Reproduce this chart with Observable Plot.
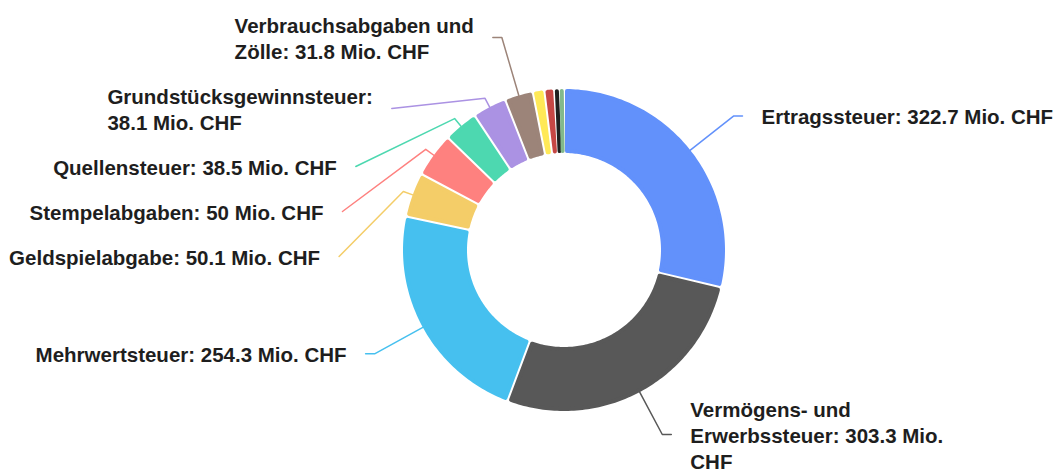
<!DOCTYPE html>
<html>
<head>
<meta charset="utf-8">
<script src="https://cdn.jsdelivr.net/npm/d3@7"></script>
<script src="https://cdn.jsdelivr.net/npm/@observablehq/plot@0.6"></script>
<style>
  html, body { margin: 0; padding: 0; background: #fff; }
  #chart svg { display: block; }
</style>
</head>
<body>
<div id="chart"></div>
<script>
// ---- Data (Mio. CHF), clockwise from 12 o'clock ----
const categories = [
  "Ertragssteuer",
  "Vermögens- und Erwerbssteuer",
  "Mehrwertsteuer",
  "Geldspielabgabe",
  "Stempelabgaben",
  "Quellensteuer",
  "Grundstücksgewinnsteuer",
  "Verbrauchsabgaben und Zölle",
  "Sonstige 1",
  "Sonstige 2",
  "Sonstige 3",
  "Sonstige 4"
];
const values = [322.7, 303.3, 254.3, 50.1, 50, 38.5, 38.1, 31.8, 13, 11, 6, 5];
const labelTexts = [
  "Ertragssteuer: 322.7 Mio. CHF",
  "Vermögens- und\nErwerbssteuer: 303.3 Mio.\nCHF",
  "Mehrwertsteuer: 254.3 Mio. CHF",
  "Geldspielabgabe: 50.1 Mio. CHF",
  "Stempelabgaben: 50 Mio. CHF",
  "Quellensteuer: 38.5 Mio. CHF",
  "Grundstücksgewinnsteuer:\n38.1 Mio. CHF",
  "Verbrauchsabgaben und\nZölle: 31.8 Mio. CHF",
  null, null, null, null
];
const colors = [
  "#6291fb", "#585858", "#46c0ef", "#f4cd68", "#fe817f", "#4dd8b0",
  "#ab92e3", "#9c8479", "#ffe957", "#c64745", "#202020", "#82b98c"
];

// ---- Layout ----
const W = 1059, H = 474;
const CX = 563.5, CY = 249.5, RO = 161, RI = 97;
const GAP = 1, ROUND = 2;           // white gap half-width, corner rounding
const L1 = 55, L2 = 9, TEXT_GAP = 19;
const FONT_SIZE = 20.5, LINE_H = 26, LABEL_SPACING = 19, EDGE = 11;
const FONT_FAMILY = "'Liberation Sans', Arial, Helvetica, sans-serif";

const data = categories.map((name, i) => ({name, value: values[i], label: labelTexts[i]}));
const arcs = d3.pie().sort(null).value(d => d.value).startAngle(0).endAngle(2 * Math.PI)(data);

const pt = (r, a) => [CX + r * Math.sin(a), CY - r * Math.cos(a)];

// slice polygons
const slicePts = [];
arcs.forEach(a => {
  const ro = RO - ROUND, ri = RI + ROUND, inset = GAP + ROUND;
  const seg = r => {
    let s = a.startAngle + inset / r, e = a.endAngle - inset / r;
    if (s > e) { const m = (a.startAngle + a.endAngle) / 2; s = e = m; }
    return [s, e];
  };
  const [os, oe] = seg(ro), [is, ie] = seg(ri);
  const n = Math.max(2, Math.ceil((oe - os) / (Math.PI / 180)) + 1);
  for (let i = 0; i < n; i++) {
    const [x, y] = pt(ro, os + (oe - os) * i / (n - 1));
    slicePts.push({name: a.data.name, x, y});
  }
  for (let i = 0; i < n; i++) {
    const [x, y] = pt(ri, ie - (ie - is) * i / (n - 1));
    slicePts.push({name: a.data.name, x, y});
  }
});

// label layout
const ctx = document.createElement("canvas").getContext("2d");
ctx.font = `bold ${FONT_SIZE}px ${FONT_FAMILY}`;
const labelled = arcs.filter(a => a.data.label).map(a => {
  const mid = (a.startAngle + a.endAngle) / 2;
  const nx = Math.sin(mid), ny = -Math.cos(mid);
  const lines = a.data.label.split("\n");
  const y0 = CY + (RO + L1) * ny;
  return {
    name: a.data.name, text: a.data.label, mid, nx, ny,
    right: nx > 0,
    h: lines.length * LINE_H,
    w: Math.max(...lines.map(l => ctx.measureText(l).width)),
    y0, y: y0
  };
});
for (const side of [true, false]) {
  const items = labelled.filter(d => d.right === side).sort((a, b) => a.y - b.y);
  // push down to avoid overlaps, collecting contiguous clusters
  const clusters = [];
  let prevBottom = -Infinity;
  for (const d of items) {
    if (d.y - d.h / 2 < prevBottom + LABEL_SPACING) {
      d.y = prevBottom + LABEL_SPACING + d.h / 2;
      clusters[clusters.length - 1].push(d);
    } else {
      clusters.push([d]);
    }
    prevBottom = d.y + d.h / 2;
  }
  // spread the top cluster back up (bounded by the top edge)
  const top = clusters[0];
  const meanShift = d3.mean(top, d => d.y - d.y0);
  const room = top[0].y - top[0].h / 2 - EDGE;
  const up = Math.max(0, Math.min(meanShift, room));
  top.forEach(d => d.y -= up);
  // keep within the bottom edge
  const last = items[items.length - 1];
  const over = last.y + last.h / 2 - (H - 1);
  if (over > 0) last.y -= over;

  const rA = RO + L1;
  for (const d of items) {
    const dir = d.right ? 1 : -1;
    const p0 = pt(RO, d.mid);
    const t = (d.y - CY) / d.ny;
    let p1, p2;
    if (t > RO + 20 && t < RO + 90) {
      p1 = [CX + t * d.nx, d.y];
      p2 = [p1[0] + dir * L2, d.y];
    } else {
      p1 = pt(RO + 10, d.mid);
      const dy = Math.min(Math.abs(d.y - CY), rA);
      const dx = Math.sqrt(rA * rA - dy * dy);
      p2 = [CX + dir * (dx + L2), d.y];
    }
    d.line = [p0, p1, p2];
    d.tx = d.right ? p2[0] + TEXT_GAP : p2[0] - TEXT_GAP - d.w;
  }
}
const linePts = labelled.flatMap(d => d.line.map(([x, y]) => ({name: d.name, x, y})));

const chart = Plot.plot({
  width: W,
  height: H,
  margin: 0,
  x: {domain: [0, W], range: [0, W], axis: null},
  y: {domain: [0, H], range: [0, H], axis: null},
  color: {type: "ordinal", domain: categories, range: colors},
  style: {background: "#fff"},
  marks: [
    Plot.line(slicePts, {
      x: "x", y: "y", z: "name", fill: "name", stroke: "name",
      strokeWidth: ROUND * 2, strokeLinejoin: "round", curve: "linear-closed"
    }),
    Plot.line(linePts, {x: "x", y: "y", z: "name", stroke: "name", strokeWidth: 1.5}),
    Plot.text(labelled, {
      x: "tx", y: "y", text: "text", textAnchor: "start", lineAnchor: "middle",
      lineHeight: LINE_H / FONT_SIZE, fontSize: FONT_SIZE, fontWeight: "bold",
      fontFamily: FONT_FAMILY, fill: "#1e1e1e"
    })
  ]
});
document.getElementById("chart").appendChild(chart);
</script>
</body>
</html>
